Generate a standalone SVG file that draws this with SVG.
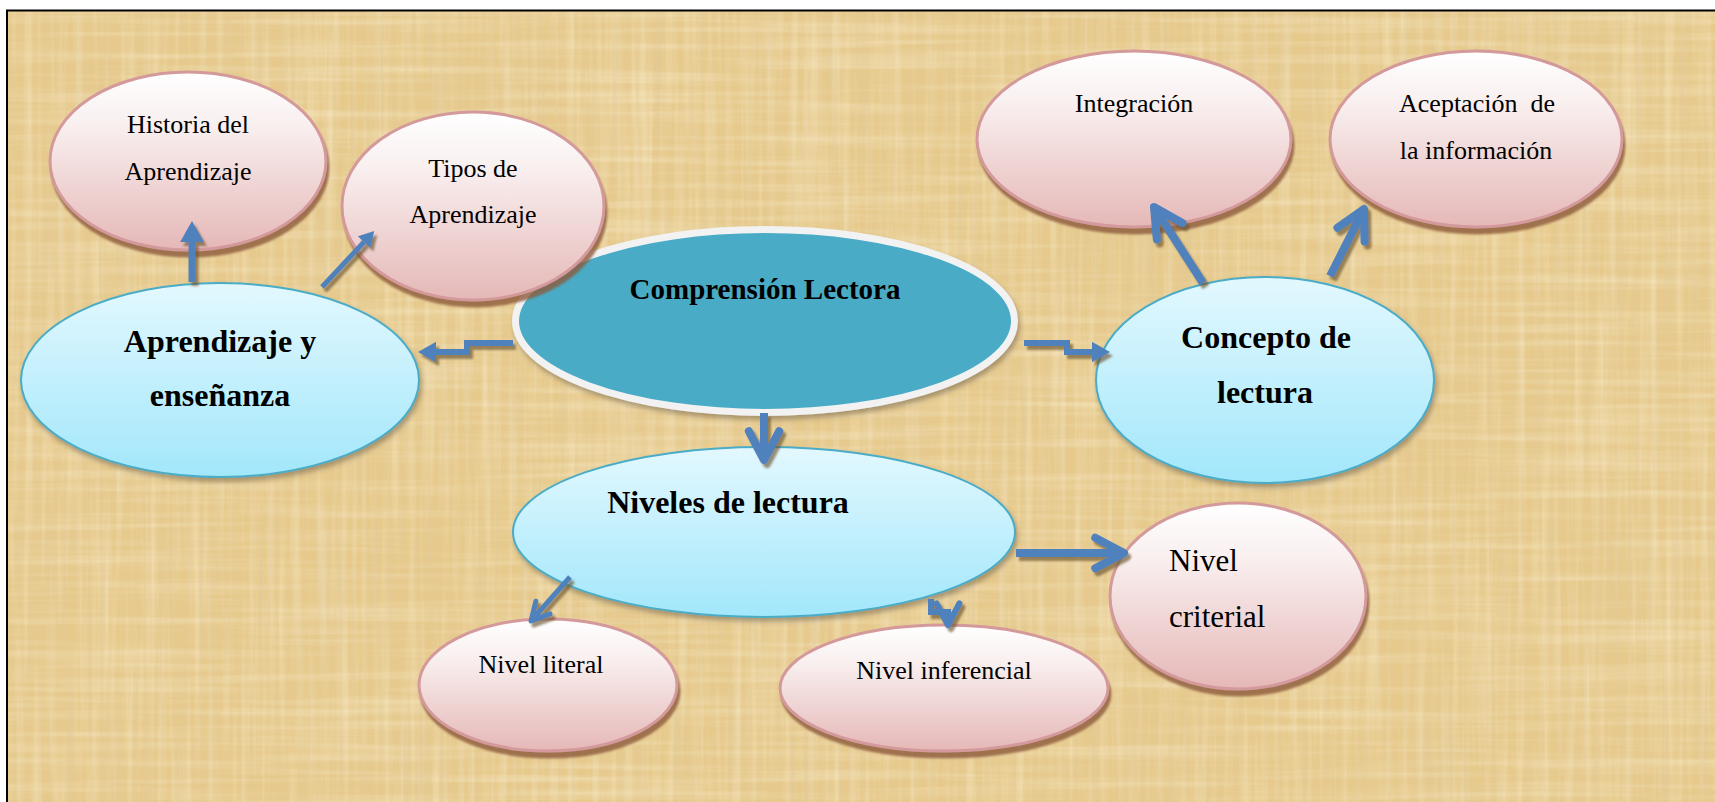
<svg xmlns="http://www.w3.org/2000/svg" width="1715" height="802" viewBox="0 0 1715 802">
<defs>
  <style>
    .t{font-family:"Liberation Serif","Times New Roman",serif;font-size:26px;fill:#000;text-anchor:middle}
    .b{font-weight:bold;font-size:32px}
    .c{font-weight:bold;font-size:29px}
    .l{text-anchor:start;font-size:31px}
    .pink{fill:url(#gPink);stroke:#D4999A;stroke-width:3;filter:url(#shPink)}
    .cyan{fill:url(#gCyan);stroke:#4BACC6;stroke-width:2;filter:url(#shSoft)}
    .ln{fill:none;stroke:#4F81BD;stroke-linejoin:miter}
  </style>
  <linearGradient id="gPink" x1="0" y1="0" x2="0" y2="1">
    <stop offset="0" stop-color="#FFFFFF"/>
    <stop offset="0.3" stop-color="#F9EFEF"/>
    <stop offset="1" stop-color="#E5B8B7"/>
  </linearGradient>
  <linearGradient id="gCyan" x1="0" y1="0" x2="0" y2="1">
    <stop offset="0" stop-color="#E3F8FE"/>
    <stop offset="1" stop-color="#A2E7FB"/>
  </linearGradient>
  <filter id="shPink" x="-10%" y="-10%" width="125%" height="130%">
    <feDropShadow dx="2" dy="6" stdDeviation="1.2" flood-color="#8C5A3A" flood-opacity="0.8"/>
  </filter>
  <filter id="shSoft" x="-10%" y="-10%" width="125%" height="130%">
    <feDropShadow dx="2" dy="4" stdDeviation="2.5" flood-color="#5A5040" flood-opacity="0.45"/>
  </filter>
  <filter id="shLine" x="-5%" y="-5%" width="115%" height="115%">
    <feDropShadow dx="3" dy="4" stdDeviation="0.8" flood-color="#6A5533" flood-opacity="0.65"/>
  </filter>
  <filter id="fibV" x="0" y="0" width="100%" height="100%">
    <feTurbulence type="fractalNoise" baseFrequency="0.12 0.004" numOctaves="3" seed="4"/>
    <feColorMatrix type="matrix" values="0 0 0 0 0.98  0 0 0 0 0.89  0 0 0 0 0.68  0.8 0 0 0 -0.34"/>
  </filter>
  <filter id="fibH" x="0" y="0" width="100%" height="100%">
    <feTurbulence type="fractalNoise" baseFrequency="0.004 0.12" numOctaves="3" seed="9"/>
    <feColorMatrix type="matrix" values="0 0 0 0 0.98  0 0 0 0 0.89  0 0 0 0 0.68  0.8 0 0 0 -0.34"/>
  </filter>
  <filter id="fibD" x="0" y="0" width="100%" height="100%">
    <feTurbulence type="fractalNoise" baseFrequency="0.25 0.006" numOctaves="2" seed="13"/>
    <feColorMatrix type="matrix" values="0 0 0 0 0.74  0 0 0 0 0.60  0 0 0 0 0.36  1.0 0 0 0 -0.44"/>
  </filter>
  <marker id="tri" markerUnits="strokeWidth" markerWidth="3" markerHeight="3.4" viewBox="0 0 10 10" preserveAspectRatio="none" refX="0" refY="5" orient="auto">
    <path d="M0,0 L10,5 L0,10 z" fill="#4F81BD"/>
  </marker>
  <marker id="chev" markerUnits="strokeWidth" markerWidth="6" markerHeight="6" viewBox="-5 -3 6 6" refX="0" refY="0" orient="auto" overflow="visible">
    <path d="M-3.6,-1.9 L0,0 L-3.6,1.9" fill="none" stroke="#4F81BD" stroke-width="1" stroke-linecap="round" stroke-linejoin="round"/>
  </marker>
</defs>

<!-- page + textured background -->
<rect x="0" y="0" width="1715" height="802" fill="#FFFFFF"/>
<g id="background">
  <rect x="7" y="10" width="1708" height="792" fill="#E6C98B"/>
  <rect x="7" y="10" width="1708" height="792" filter="url(#fibV)"/>
  <rect x="7" y="10" width="1708" height="792" filter="url(#fibH)"/>
  <rect x="7" y="10" width="1708" height="792" filter="url(#fibD)"/>
  <path d="M6,10.5 H1715 M7,10 V802" stroke="#000" stroke-width="2" fill="none"/>
</g>

<g id="node-comprension">
  <ellipse cx="765" cy="321" rx="249.5" ry="91.5" fill="#4AABC5" stroke="#F2F2F2" stroke-width="7" filter="url(#shSoft)"/>
  <text class="t c" x="765" y="299">Comprensión Lectora</text>
</g>

<g id="node-historia">
  <ellipse class="pink" cx="188" cy="161" rx="138" ry="89"/>
  <text class="t" x="188" y="133">Historia del</text>
  <text class="t" x="188" y="180">Aprendizaje</text>
</g>

<g id="node-tipos">
  <ellipse class="pink" cx="473" cy="206" rx="131" ry="94"/>
  <text class="t" x="473" y="177">Tipos de</text>
  <text class="t" x="473" y="223">Aprendizaje</text>
</g>

<g id="node-aprendizaje">
  <ellipse class="cyan" cx="220" cy="380" rx="199" ry="97"/>
  <text class="t b" x="220" y="352">Aprendizaje y</text>
  <text class="t b" x="220" y="406">enseñanza</text>
</g>

<g id="node-integracion">
  <ellipse class="pink" cx="1134" cy="139" rx="157" ry="88"/>
  <text class="t" x="1134" y="112">Integración</text>
</g>

<g id="node-aceptacion">
  <ellipse class="pink" cx="1476" cy="139" rx="146" ry="88"/>
  <text class="t" x="1477" y="112">Aceptación&#160; de</text>
  <text class="t" x="1476" y="159">la información</text>
</g>

<g id="node-concepto">
  <ellipse class="cyan" cx="1265" cy="380" rx="169" ry="103"/>
  <text class="t b" x="1266" y="348">Concepto de</text>
  <text class="t b" x="1265" y="403">lectura</text>
</g>

<g id="node-niveles">
  <ellipse class="cyan" cx="764" cy="532" rx="251" ry="85"/>
  <text class="t b" x="728" y="513">Niveles de lectura</text>
</g>

<g id="node-literal">
  <ellipse class="pink" cx="548" cy="685" rx="129" ry="66"/>
  <text class="t" x="541" y="673">Nivel literal</text>
</g>

<g id="node-inferencial">
  <ellipse class="pink" cx="944" cy="688" rx="164" ry="63"/>
  <text class="t" x="944" y="679">Nivel inferencial</text>
</g>

<g id="node-criterial">
  <ellipse class="pink" cx="1238" cy="596" rx="128" ry="93"/>
  <text class="t l" x="1169" y="571">Nivel</text>
  <text class="t l" x="1169" y="627">criterial</text>
</g>

<g id="connectors" filter="url(#shLine)">
  <path class="ln" d="M192,282 V242" stroke-width="7" marker-end="url(#tri)"/>
  <path class="ln" d="M322,287 L364,242" stroke-width="5" marker-end="url(#tri)"/>
  <path class="ln" d="M513,343 H467 V352 H436" stroke-width="6" marker-end="url(#tri)"/>
  <path class="ln" d="M1024,343 H1067 V352 H1092" stroke-width="6" marker-end="url(#tri)"/>
  <path class="ln" d="M764,413 V460" stroke-width="8" marker-end="url(#chev)"/>
  <path class="ln" d="M1203,283 L1154,207" stroke-width="8" marker-end="url(#chev)"/>
  <path class="ln" d="M1330,276 L1364,209" stroke-width="8" marker-end="url(#chev)"/>
  <path class="ln" d="M570,577 L531,621" stroke-width="5" marker-end="url(#chev)"/>
  <path class="ln" d="M931,599 V612 H948 V625" stroke-width="6" marker-end="url(#chev)"/>
  <path class="ln" d="M1016,553 H1124" stroke-width="8" marker-end="url(#chev)"/>
</g>
</svg>
